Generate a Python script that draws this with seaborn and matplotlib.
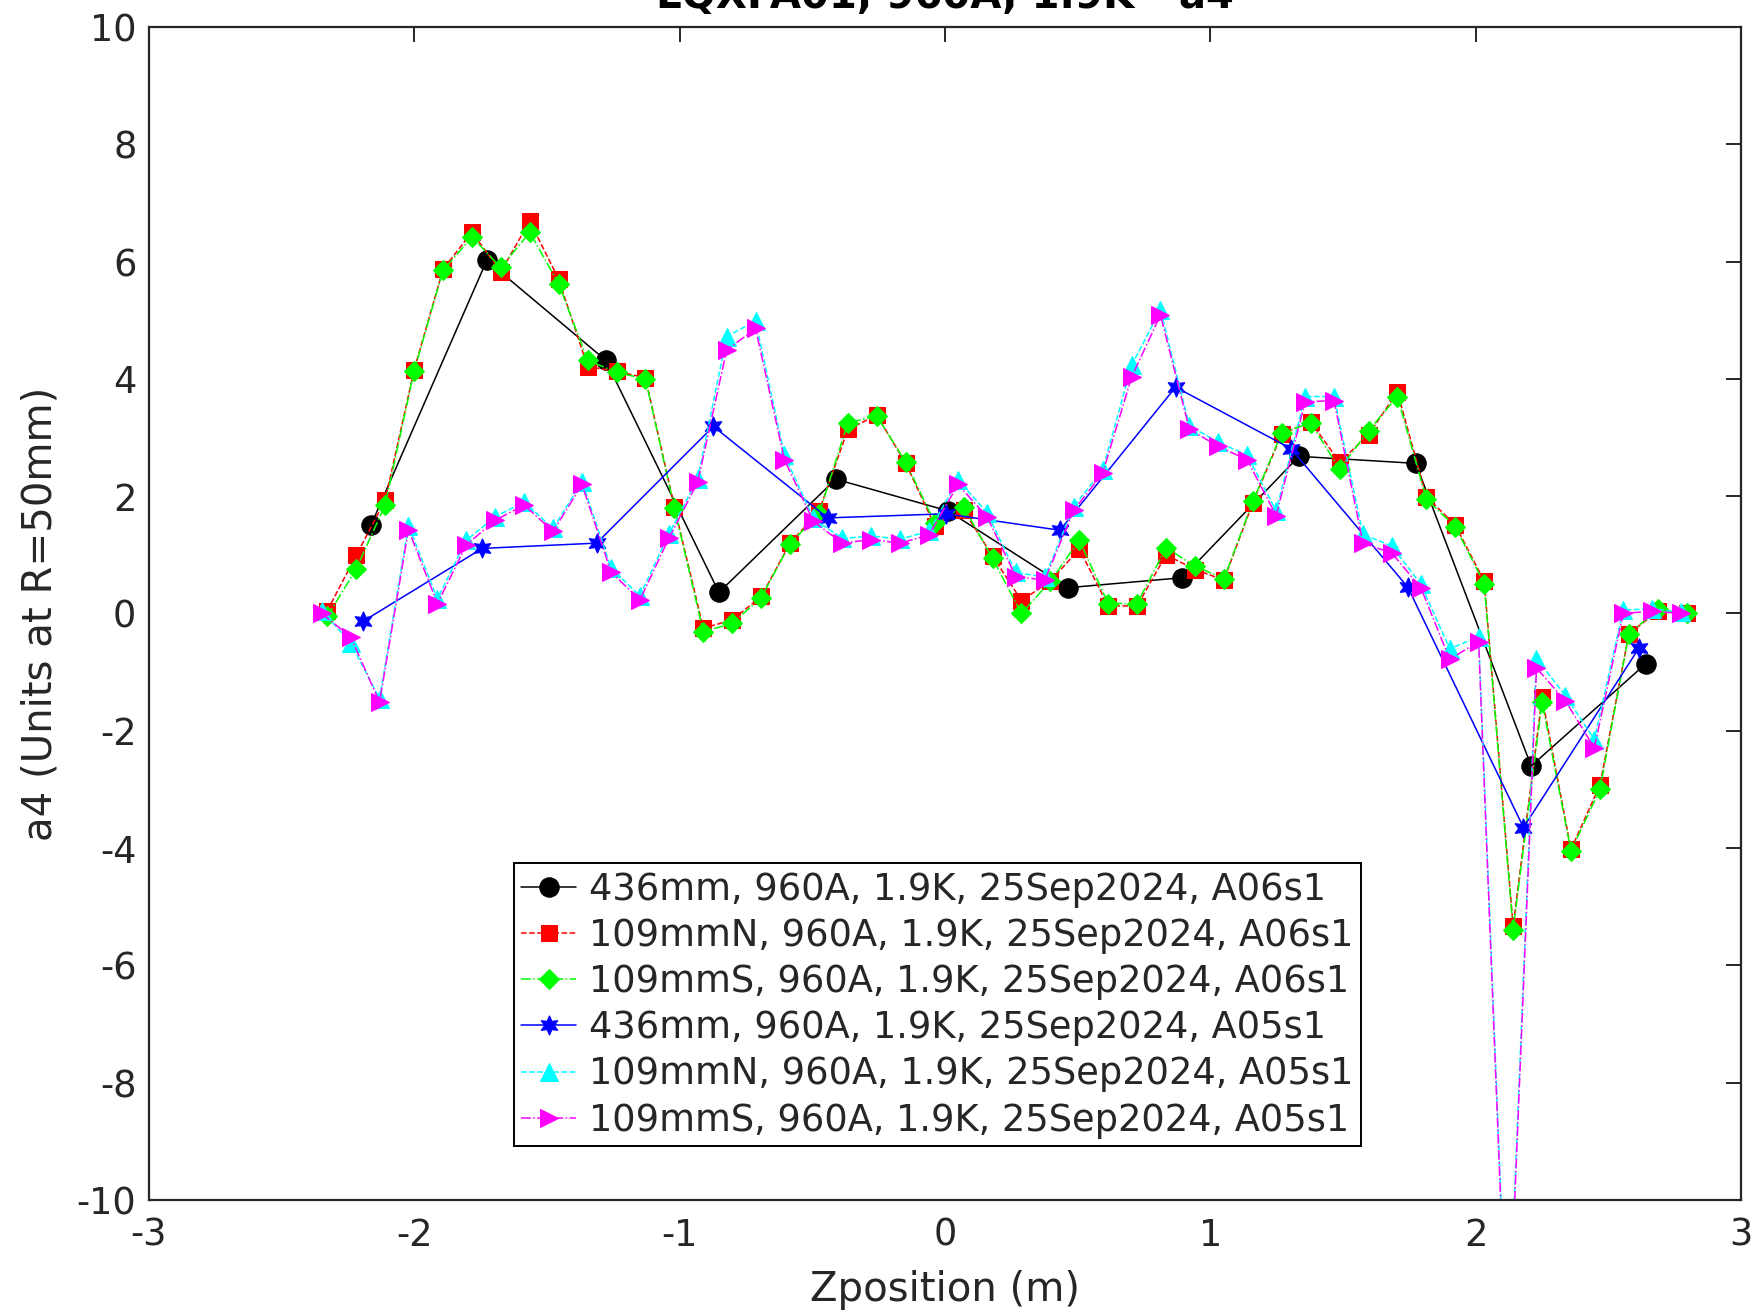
import matplotlib
matplotlib.use("Agg")
import matplotlib.pyplot as plt
import seaborn as sns
import pandas as pd

# Measurement positions (m) and a4 harmonic values (units at R=50 mm)
z_436_a06 = [-2.163, -1.727, -1.279, -0.852, -0.412, 0.011, 0.463, 0.894, 1.334, 1.774, 2.209, 2.640]
a4_436_a06 = [1.51, 6.02, 4.32, 0.36, 2.29, 1.75, 0.44, 0.61, 2.68, 2.56, -2.60, -0.86]

z_109_a06 = [-2.328, -2.219, -2.110, -2.001, -1.892, -1.783, -1.674, -1.565, -1.456, -1.347,
             -1.238, -1.129, -1.020, -0.911, -0.802, -0.693, -0.584, -0.475, -0.366, -0.257,
             -0.148, -0.039, 0.070, 0.179, 0.288, 0.397, 0.506, 0.615, 0.724, 0.833,
             0.942, 1.051, 1.160, 1.269, 1.378, 1.487, 1.596, 1.705, 1.814, 1.923,
             2.032, 2.141, 2.250, 2.359, 2.468, 2.577, 2.686, 2.795]
a4_109N_a06 = [0.05, 0.99, 1.93, 4.15, 5.87, 6.50, 5.83, 6.69, 5.70, 4.21,
               4.13, 4.02, 1.82, -0.25, -0.11, 0.29, 1.20, 1.74, 3.14, 3.38,
               2.56, 1.50, 1.76, 0.98, 0.22, 0.55, 1.10, 0.13, 0.13, 1.00,
               0.75, 0.57, 1.89, 3.06, 3.27, 2.58, 3.05, 3.78, 1.99, 1.51,
               0.55, -5.33, -1.43, -4.02, -2.93, -0.35, 0.04, 0.00]
a4_109S_a06 = [-0.05, 0.76, 1.85, 4.13, 5.85, 6.42, 5.90, 6.50, 5.62, 4.32,
               4.11, 4.00, 1.80, -0.31, -0.17, 0.27, 1.19, 1.70, 3.25, 3.37,
               2.58, 1.55, 1.82, 0.94, 0.00, 0.55, 1.25, 0.17, 0.17, 1.12,
               0.81, 0.59, 1.91, 3.08, 3.25, 2.46, 3.12, 3.70, 1.95, 1.48,
               0.51, -5.39, -1.51, -4.05, -3.00, -0.35, 0.07, 0.00]

z_436_a05 = [-2.192, -1.744, -1.313, -0.873, -0.442, 0.002, 0.433, 0.869, 1.304, 1.744, 2.180, 2.615]
a4_436_a05 = [-0.13, 1.11, 1.20, 3.19, 1.63, 1.70, 1.42, 3.86, 2.81, 0.45, -3.65, -0.59]

z_109_a05 = [-2.349, -2.240, -2.131, -2.022, -1.913, -1.804, -1.695, -1.586, -1.477, -1.368,
             -1.259, -1.150, -1.041, -0.932, -0.823, -0.714, -0.605, -0.496, -0.387, -0.278,
             -0.169, -0.060, 0.049, 0.158, 0.267, 0.376, 0.485, 0.594, 0.703, 0.812,
             0.921, 1.030, 1.139, 1.248, 1.357, 1.466, 1.575, 1.684, 1.793, 1.902,
             2.011, 2.120, 2.229, 2.338, 2.447, 2.556, 2.665, 2.774]
a4_109N_a05 = [0.05, -0.50, -1.45, 1.50, 0.25, 1.25, 1.65, 1.90, 1.45, 2.25,
               0.78, 0.30, 1.35, 2.30, 4.72, 4.99, 2.70, 1.62, 1.28, 1.32,
               1.27, 1.40, 2.28, 1.72, 0.70, 0.62, 1.82, 2.45, 4.23, 5.18,
               3.20, 2.92, 2.70, 1.75, 3.70, 3.70, 1.35, 1.15, 0.50, -0.60,
               -0.40, -12.8, -0.77, -1.40, -2.15, 0.06, 0.08, 0.02]
a4_109S_a05 = [0.00, -0.40, -1.51, 1.43, 0.17, 1.17, 1.59, 1.85, 1.40, 2.20,
               0.71, 0.23, 1.28, 2.24, 4.49, 4.86, 2.62, 1.57, 1.20, 1.26,
               1.20, 1.34, 2.20, 1.65, 0.63, 0.57, 1.76, 2.39, 4.03, 5.09,
               3.14, 2.85, 2.62, 1.67, 3.61, 3.63, 1.20, 1.03, 0.44, -0.78,
               -0.48, -13.0, -0.93, -1.49, -2.29, 0.00, 0.04, 0.00]

labels = [
    "436mm, 960A, 1.9K, 25Sep2024, A06s1",
    "109mmN, 960A, 1.9K, 25Sep2024, A06s1",
    "109mmS, 960A, 1.9K, 25Sep2024, A06s1",
    "436mm, 960A, 1.9K, 25Sep2024, A05s1",
    "109mmN, 960A, 1.9K, 25Sep2024, A05s1",
    "109mmS, 960A, 1.9K, 25Sep2024, A05s1",
]
x_ticks = [-3, -2, -1, 0, 1, 2, 3]
y_ticks = [-10, -8, -6, -4, -2, 0, 2, 4, 6, 8, 10]

hexagram = (6, 1, 0)  # six-pointed star marker
series = [
    (z_436_a06, a4_436_a06, "#000000", "-", "o", 14),
    (z_109_a06, a4_109N_a06, "#ff0000", "--", "s", 11),
    (z_109_a06, a4_109S_a06, "#00ff00", "-.", "D", 10),
    (z_436_a05, a4_436_a05, "#0000ff", "-", hexagram, 14),
    (z_109_a05, a4_109N_a05, "#00ffff", "--", "^", 13),
    (z_109_a05, a4_109S_a05, "#ff00ff", "-.", ">", 13),
]

sns.set_style("white")
plt.rcParams["font.family"] = ["DejaVu Sans"]

fig = plt.figure(figsize=(17.59, 13.13), dpi=100)
ax = fig.add_axes([0.0847, 0.0861, 0.9051, 0.8933])

for (zx, yy, col, ls, mk, ms), lab in zip(series, labels):
    df = pd.DataFrame({"z": zx, "a4": yy})
    sns.lineplot(data=df, x="z", y="a4", ax=ax, sort=False, estimator=None,
                 color=col, linestyle=ls, linewidth=1.1, marker=mk,
                 markersize=ms, markeredgecolor=col, markerfacecolor=col,
                 label=lab)

ax.set_xlim(-3, 3)
ax.set_ylim(-10, 10)
ax.set_xticks(x_ticks)
ax.set_yticks(y_ticks)
ax.set_xticklabels([str(v) for v in x_ticks])
ax.set_yticklabels([str(v) for v in y_ticks])
ax.tick_params(direction="in", length=11, width=1.4, labelsize=26.5,
               top=True, right=True, colors="#262626")
ax.tick_params(axis="x", pad=12)
ax.tick_params(axis="y", pad=9)
for sp in ax.spines.values():
    sp.set_visible(True)
    sp.set_color("#262626")
    sp.set_linewidth(1.6)

ax.set_xlabel("Zposition (m)", fontsize=29, color="#262626", labelpad=12)
ax.set_ylabel("a4 (Units at R=50mm)", fontsize=29, color="#262626", labelpad=12)

fig.text(0.5373, 1 - 8 / 1313, "LQXFA01, 960A, 1.9K - a4", ha="center",
         va="baseline", fontsize=29, fontweight="bold", color="#000000")

leg = ax.legend(loc="lower left", bbox_to_anchor=(0.229, 0.046), fontsize=26.5,
                frameon=True, fancybox=False, framealpha=1, edgecolor="#000000",
                borderpad=0.2, labelspacing=0.25, handlelength=1.5,
                handletextpad=0.35, borderaxespad=0)
leg.get_frame().set_linewidth(1.4)

fig.savefig("out.png", dpi=100, facecolor="white")
